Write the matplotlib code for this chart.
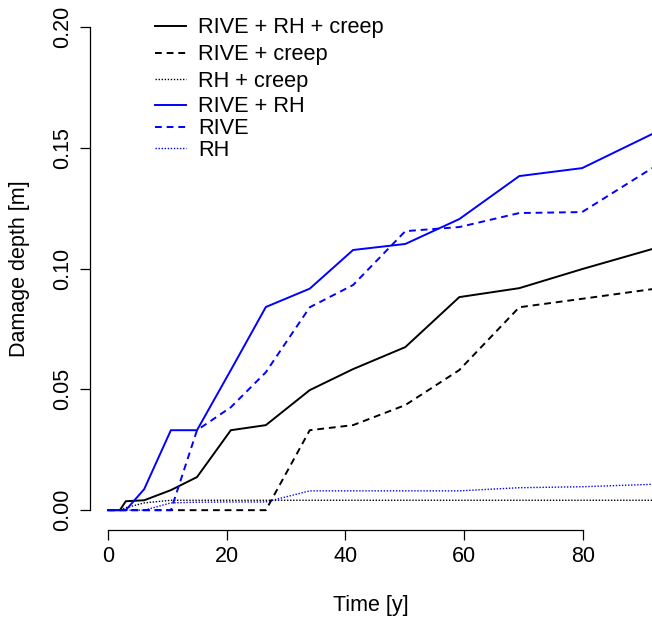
import matplotlib
matplotlib.use("Agg")
import matplotlib.pyplot as plt
from matplotlib.lines import Line2D

plt.rcParams['font.family'] = ['Liberation Sans', 'DejaVu Sans']

time = [0, 2.0, 3.0, 6.1, 10.6, 15.0, 20.7, 26.6, 34.0, 41.3, 50.1, 59.2, 69.3, 79.9, 91.7]

rive_rh_creep = [0, 0, 0.0037, 0.0041, 0.0083, 0.0137, 0.0331, 0.0352, 0.0497, 0.0584, 0.0675, 0.0882, 0.0919, 0.0998, 0.1081]
rive_creep    = [0, 0, 0, 0, 0, 0, 0, 0, 0.0331, 0.0352, 0.0435, 0.0580, 0.0840, 0.0875, 0.0915]
rh_creep      = [0, 0, 0.0010, 0.0030, 0.0041, 0.0041, 0.0041, 0.0041, 0.0041, 0.0041, 0.0041, 0.0041, 0.0041, 0.0041, 0.0041]
rive_rh       = [0, 0, 0, 0.0087, 0.0331, 0.0331, 0.0580, 0.0841, 0.0917, 0.1077, 0.1102, 0.1205, 0.1383, 0.1416, 0.1557]
rive          = [0, 0, 0, 0, 0, 0.0331, 0.0426, 0.0571, 0.0840, 0.0932, 0.1155, 0.1172, 0.1230, 0.1234, 0.1416]
rh            = [0, 0, 0, 0, 0.0030, 0.0033, 0.0034, 0.0034, 0.0080, 0.0080, 0.0080, 0.0080, 0.0093, 0.0097, 0.0107]

labels = ["RIVE + RH + creep", "RIVE + creep", "RH + creep", "RIVE + RH", "RIVE", "RH"]
series = [rive_rh_creep, rive_creep, rh_creep, rive_rh, rive, rh]
colors = ["black", "black", "black", "#0000FF", "#0000FF", "#0000FF"]
dashed = (0, (3.5, 2.5))
dotted = (0, (1.0, 1.2))
styles = ["-", dashed, dotted, "-", dashed, dotted]
widths = [1.4, 1.4, 1.0, 1.4, 1.4, 1.0]

FS = 15.5
W, H = 652, 617
fig = plt.figure(figsize=(W / 100, H / 100), dpi=100)
ax = fig.add_axes([90 / W, (H - 529.5) / H, (652 - 90) / W, (529.5 - 7.7) / H])

for y, c, ls, lw in zip(series, colors, styles, widths):
    ax.plot(time, y, color=c, linestyle=ls, linewidth=lw, solid_joinstyle='miter')

ax.set_xlim(-3.03, 91.67)
ax.set_ylim(-0.008, 0.208)
ax.set_xticks([0, 20, 40, 60, 80])
ax.set_yticks([0.00, 0.05, 0.10, 0.15, 0.20])
ax.set_yticklabels(["0.00", "0.05", "0.10", "0.15", "0.20"], rotation=90, va='center')
for s in ['top', 'right']:
    ax.spines[s].set_visible(False)
ax.spines['left'].set_bounds(0, 0.2)
ax.spines['bottom'].set_bounds(0, 80)
for s in ['left', 'bottom']:
    ax.spines[s].set_linewidth(0.9)
ax.tick_params(axis='both', direction='out', length=7, width=0.9, labelsize=FS, pad=5)
ax.set_xlabel("Time [y]", fontsize=FS, labelpad=20)
ax.set_ylabel("Damage depth [m]", fontsize=FS, labelpad=16)
ax.patch.set_alpha(0)

# legend (no frame), drawn in figure pixel coordinates
rows = [26, 52.5, 79, 105, 126.5, 148]
for ry, lab, c, ls, lw in zip(rows, labels, colors, styles, widths):
    yf = (H - ry) / H
    fig.add_artist(Line2D([155 / W, 186 / W], [yf, yf], transform=fig.transFigure,
                          color=c, linestyle=ls, linewidth=lw))
    fig.text(198 / W, (H - ry - 7.5) / H, lab, fontsize=15.7, va='baseline', ha='left')

fig.savefig("out.png", dpi=100)
